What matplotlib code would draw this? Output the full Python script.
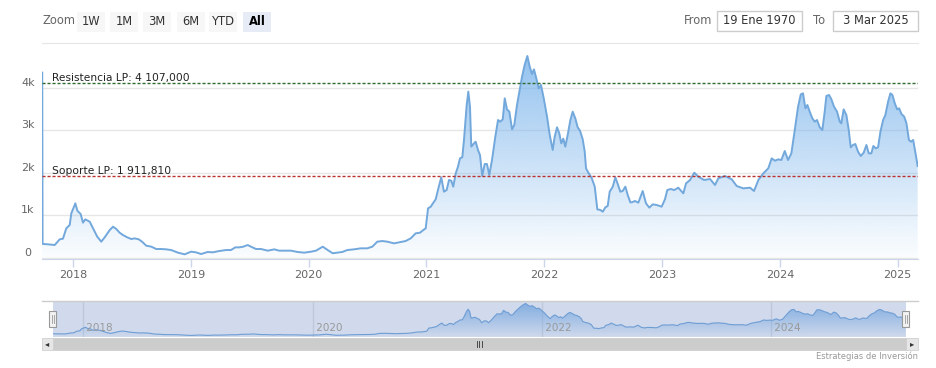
import numpy as np
import matplotlib
matplotlib.use("Agg")
import matplotlib.pyplot as plt
from matplotlib.patches import Rectangle, Polygon
from matplotlib.colors import to_rgb
import matplotlib.transforms as mtransforms

# ---------------- data ----------------
dates = [
    2017.739, 2017.742, 2017.788, 2017.845, 2017.887, 2017.915, 2017.943, 2017.972, 2017.986,
    2018.020, 2018.037, 2018.065, 2018.085, 2018.104, 2018.142, 2018.170, 2018.206, 2018.240,
    2018.269, 2018.312, 2018.340, 2018.368, 2018.396, 2018.424, 2018.461, 2018.495, 2018.524,
    2018.558, 2018.586, 2018.622, 2018.665, 2018.707, 2018.750, 2018.792, 2018.834, 2018.891,
    2018.948,
    2019.002, 2019.044, 2019.087, 2019.143, 2019.186, 2019.242, 2019.299, 2019.341, 2019.378,
    2019.412, 2019.446, 2019.483, 2019.511, 2019.553, 2019.596, 2019.653, 2019.709, 2019.751,
    2019.808, 2019.851, 2019.907, 2019.963,
    2020.020, 2020.063, 2020.120, 2020.162, 2020.205, 2020.244, 2020.286, 2020.329, 2020.385,
    2020.442, 2020.498, 2020.541, 2020.583, 2020.626, 2020.668, 2020.725, 2020.782, 2020.824,
    2020.867, 2020.909, 2020.946, 2020.974, 2020.994,
    2021.014, 2021.037, 2021.059, 2021.079, 2021.098, 2021.126, 2021.149, 2021.172, 2021.192,
    2021.211, 2021.228, 2021.249, 2021.268, 2021.285, 2021.305, 2021.319, 2021.342, 2021.356,
    2021.370, 2021.381, 2021.404, 2021.418, 2021.438, 2021.455, 2021.474, 2021.495, 2021.514,
    2021.534, 2021.557, 2021.585, 2021.608, 2021.627, 2021.648, 2021.665, 2021.684, 2021.704,
    2021.727, 2021.746, 2021.769, 2021.792, 2021.812, 2021.834, 2021.857, 2021.877, 2021.896,
    2021.913, 2021.933, 2021.953, 2021.973, 2021.996,
    2022.024, 2022.047, 2022.072, 2022.089, 2022.109, 2022.128, 2022.145, 2022.162, 2022.179,
    2022.202, 2022.222, 2022.242, 2022.264, 2022.284, 2022.304, 2022.327, 2022.344, 2022.355,
    2022.378, 2022.401, 2022.429, 2022.451, 2022.477, 2022.497, 2022.519, 2022.539, 2022.556,
    2022.582, 2022.604, 2022.627, 2022.646, 2022.666, 2022.689, 2022.709, 2022.731, 2022.743,
    2022.771, 2022.799, 2022.836, 2022.864, 2022.892, 2022.921, 2022.955, 2022.997,
    2023.025, 2023.045, 2023.074, 2023.104, 2023.138, 2023.181, 2023.204, 2023.238, 2023.274,
    2023.308, 2023.357, 2023.408, 2023.450, 2023.478, 2023.535, 2023.592, 2023.634, 2023.690,
    2023.747, 2023.781, 2023.818, 2023.860, 2023.902, 2023.931, 2023.959, 2023.987,
    2024.013, 2024.042, 2024.070, 2024.098, 2024.127, 2024.155, 2024.178, 2024.197, 2024.217,
    2024.234, 2024.254, 2024.276, 2024.296, 2024.316, 2024.339, 2024.361, 2024.381, 2024.395,
    2024.418, 2024.438, 2024.460, 2024.486, 2024.509, 2024.522, 2024.542, 2024.565, 2024.585,
    2024.602, 2024.621, 2024.641, 2024.664, 2024.687, 2024.712, 2024.735, 2024.755, 2024.777,
    2024.794, 2024.815, 2024.834, 2024.854, 2024.877, 2024.896, 2024.919, 2024.939, 2024.956,
    2024.976, 2024.996,
    2025.013, 2025.033, 2025.056, 2025.075, 2025.096, 2025.113, 2025.132, 2025.152, 2025.170,
]
prices = [
    4350, 320, 310, 294, 428, 443, 686, 765, 1040,
    1275, 1102, 1024, 820, 898, 843, 686, 490, 373,
    474, 647, 725, 670, 584, 529, 474, 435, 450,
    428, 373, 278, 255, 200, 200, 192, 176, 114,
    75,
    137, 122, 82, 130, 122, 153, 176, 176, 239,
    239, 255, 294, 255, 200, 200, 161, 192, 161,
    161, 161, 130, 114,
    137, 161, 255, 176, 100, 114, 130, 176, 192,
    216, 216, 255, 373, 388, 373, 333, 365, 388,
    451, 569, 584, 647, 686,
    1157, 1196, 1290, 1369, 1588, 1886, 1549, 1588, 1824,
    1808, 1667, 1980, 2137, 2333, 2360, 2765, 3588, 3902,
    3549, 2608, 2686, 2725, 2529, 2412, 1918, 2200, 2200,
    1941, 2294, 2843, 3235, 3196, 3251, 3745, 3486, 3431,
    3016, 3118, 3588, 3941, 4255, 4529, 4741, 4490, 4318,
    4427, 4216, 3980, 4059, 3745,
    3314, 2882, 2529, 2843, 3063, 2922, 2686, 2796, 2608,
    2922, 3235, 3431, 3275, 3063, 2984, 2780, 2490, 2098,
    1980, 1886, 1667, 1133, 1118, 1078, 1180, 1212, 1549,
    1667, 1886, 1706, 1549, 1565, 1667, 1471, 1298, 1298,
    1330, 1290, 1565, 1275, 1173, 1251, 1235, 1196,
    1369, 1588, 1612, 1588, 1643, 1510, 1745, 1824, 1996,
    1902, 1824, 1847, 1706, 1863, 1918, 1839, 1682, 1627,
    1643, 1565, 1824, 1980, 2098, 2333, 2278, 2310,
    2294, 2506, 2294, 2451, 3000, 3549, 3839, 3863, 3510,
    3588, 3431, 3275, 3196, 3235, 3063, 3000, 3431, 3800,
    3824, 3722, 3549, 3431, 3196, 3157, 3486, 3353, 3000,
    2592, 2647, 2671, 2490, 2388, 2467, 2647, 2451, 2451,
    2624, 2569, 2592, 2961, 3235, 3353, 3667, 3863, 3824,
    3627, 3486,
    3510, 3376, 3314, 3157, 2765, 2725, 2765, 2451, 2153,
]
year_ticks = [2018, 2019, 2020, 2021, 2022, 2023, 2024, 2025]
y_ticks = [0, 1000, 2000, 3000, 4000]
y_tick_labels = ["0", "1k", "2k", "3k", "4k"]
resistance = 4107.0
support = 1911.81
resistance_label = "Resistencia LP: 4 107,000"
support_label = "Soporte LP: 1 911,810"
range_buttons = ["1W", "1M", "3M", "6M", "YTD", "All"]
selected_button = "All"
from_date = "19 Ene 1970"
to_date = "3 Mar 2025"
nav_years = [2018, 2020, 2022, 2024]
credit = "Estrategias de Inversión"

# ---------------- layout helpers ----------------
W, H = 937, 368
fig = plt.figure(figsize=(W / 100, H / 100), dpi=100)
fig.patch.set_facecolor("white")
plt.rcParams["font.family"] = ["DejaVu Sans"]


def fx(px):
    return px / W


def fy(py):
    return 1 - py / H


def frect(x0, y0, x1, y1, **kw):
    r = Rectangle((fx(x0), fy(y1)), fx(x1) - fx(x0), fy(y0) - fy(y1),
                  transform=fig.transFigure, **kw)
    fig.add_artist(r)
    return r


SERIES = "#7cb5ec"
LINE = "#72a8dc"
XMIN, XMAX = 2017.737, 2025.173

x = np.array(dates)
y = np.array(prices, dtype=float)


def gradient_area(ax, xs, ys, top_alpha, bottom_alpha):
    verts = np.column_stack([np.r_[xs[0], xs, xs[-1]], np.r_[0, ys, 0]])
    poly = Polygon(verts, closed=True, facecolor="none", edgecolor="none")
    ax.add_patch(poly)
    grad = np.zeros((256, 1, 4))
    grad[..., :3] = to_rgb(SERIES)
    grad[:, 0, 3] = np.linspace(top_alpha, bottom_alpha, 256)
    im = ax.imshow(grad, extent=[xs.min(), xs.max(), 0, ys.max()],
                   aspect="auto", origin="upper", zorder=1, interpolation="bilinear")
    im.set_clip_path(poly)


# ---------------- main chart ----------------
ax = fig.add_axes([fx(42), fy(259), (918 - 42) / W, (259 - 43) / H])
ax.set_facecolor("white")
gradient_area(ax, x, y, 0.82, 0.03)
ax.plot(x, y, color=LINE, lw=1.4, zorder=3, solid_joinstyle="round")

for v in y_ticks:
    ax.axhline(v, color="#e6e6e6", lw=1, zorder=0)

ax.axhline(resistance, color="#2f6a2f", lw=1, ls=(0, (2.2, 1.4)), zorder=4)
ax.axhline(support, color="#b8312f", lw=1, ls=(0, (2.2, 1.4)), zorder=4)
lbl_tr = mtransforms.blended_transform_factory(ax.transAxes, ax.transData)
ax.text(10 / 876, resistance, resistance_label, transform=lbl_tr, fontsize=7.7,
        color="#222222", ha="left", va="bottom", zorder=5)
ax.text(10 / 876, support, support_label, transform=lbl_tr, fontsize=7.7,
        color="#222222", ha="left", va="bottom", zorder=5)

ax.set_xlim(XMIN, XMAX)
ax.set_ylim(-35, 5047)
for s in ["left", "right"]:
    ax.spines[s].set_visible(False)
ax.spines["top"].set_color("#e6e6e6")
ax.spines["bottom"].set_color("#ccd6eb")
ax.set_xticks(year_ticks)
ax.set_xticklabels([str(t) for t in year_ticks], fontsize=8, color="#666666")
ax.tick_params(axis="x", length=6, width=1, color="#ccd6eb", pad=2)
ax.set_yticks([])
ytr = mtransforms.blended_transform_factory(fig.transFigure, ax.transData)
for v, lbl in zip(y_ticks, y_tick_labels):
    fig.text(fx(28), 0, lbl, transform=ytr, fontsize=8, color="#666666",
             ha="center", va="bottom").set_y(v)

# ---------------- navigator ----------------
frect(42, 301, 918, 337.5, facecolor="white", edgecolor="none", zorder=0)
nav = fig.add_axes([fx(53), fy(337), (906 - 53) / W, (337 - 301) / H])
nav.set_facecolor("white")
gradient_area(nav, x[1:], y[1:], 0.85, 0.05)
nav.plot(x[1:], y[1:], color=LINE, lw=0.8, zorder=3)
for yr in nav_years:
    nav.axvline(yr, color="#e6e6e6", lw=1, zorder=0)
    nav.text(yr, 0.1, f" {yr}", transform=mtransforms.blended_transform_factory(nav.transData, nav.transAxes),
             fontsize=7.5, color="#999999", ha="left", va="bottom", zorder=6)
nav.add_patch(Rectangle((0, 0), 1, 1, transform=nav.transAxes, facecolor=(102 / 255, 133 / 255, 194 / 255, 0.3),
                        edgecolor="none", zorder=5))
nav.set_xlim(XMIN, XMAX)
nav.set_ylim(-150, 5100)
nav.set_xticks([])
nav.set_yticks([])
for s in nav.spines.values():
    s.set_visible(False)
fig.add_artist(plt.Line2D([fx(42), fx(918)], [fy(301), fy(301)], transform=fig.transFigure,
                          color="#cccccc", lw=1))
# handles
for hx in (53, 906):
    frect(hx - 3.5, 311, hx + 3.5, 327, facecolor="#f2f2f2", edgecolor="#999999", lw=0.8, zorder=10)
    for dx in (-1, 1):
        fig.add_artist(plt.Line2D([fx(hx + dx), fx(hx + dx)], [fy(315), fy(323)],
                                  transform=fig.transFigure, color="#999999", lw=0.6, zorder=11))

# scrollbar
frect(42, 338, 918, 350, facecolor="#f2f2f2", edgecolor="none")
frect(53, 338, 906, 350, facecolor="#cccccc", edgecolor="#cccccc", lw=0.5)
frect(42, 338, 53, 350, facecolor="#e6e6e6", edgecolor="#cccccc", lw=0.5)
frect(906, 338, 918, 350, facecolor="#e6e6e6", edgecolor="#cccccc", lw=0.5)
fig.text(fx(47.5), fy(344), "◂", fontsize=6, color="#333333", ha="center", va="center")
fig.text(fx(912), fy(344), "▸", fontsize=6, color="#333333", ha="center", va="center")
for dx in (-2, 0, 2):
    fig.add_artist(plt.Line2D([fx(479.5 + dx), fx(479.5 + dx)], [fy(341), fy(347)],
                              transform=fig.transFigure, color="#333333", lw=0.6))
fig.text(fx(918), fy(356), credit, fontsize=6, color="#999999", ha="right", va="center")

# ---------------- range selector ----------------
fig.text(fx(43), fy(21), "Zoom", fontsize=8.3, color="#666666", ha="left", va="center")
btn_x = [77, 110, 143, 177, 209, 243]
for lbl, bx in zip(range_buttons, btn_x):
    sel = lbl == selected_button
    frect(bx, 12, bx + 28, 32, facecolor="#e6ebf5" if sel else "#f7f7f7", edgecolor="none")
    fig.text(fx(bx + 14), fy(21.5), lbl, fontsize=8.3, color="#000000" if sel else "#333333",
             ha="center", va="center", fontweight="bold" if sel else "normal")

fig.text(fx(684), fy(21), "From", fontsize=8.3, color="#666666", ha="left", va="center")
frect(717, 11, 802, 31, facecolor="white", edgecolor="#cccccc", lw=1)
fig.text(fx(759.5), fy(21), from_date, fontsize=8.3, color="#333333", ha="center", va="center")
fig.text(fx(813), fy(21), "To", fontsize=8.3, color="#666666", ha="left", va="center")
frect(833, 11, 918, 31, facecolor="white", edgecolor="#cccccc", lw=1)
fig.text(fx(875.5), fy(21), to_date, fontsize=8.3, color="#333333", ha="center", va="center")

fig.savefig("out.png", dpi=100, facecolor="white")
